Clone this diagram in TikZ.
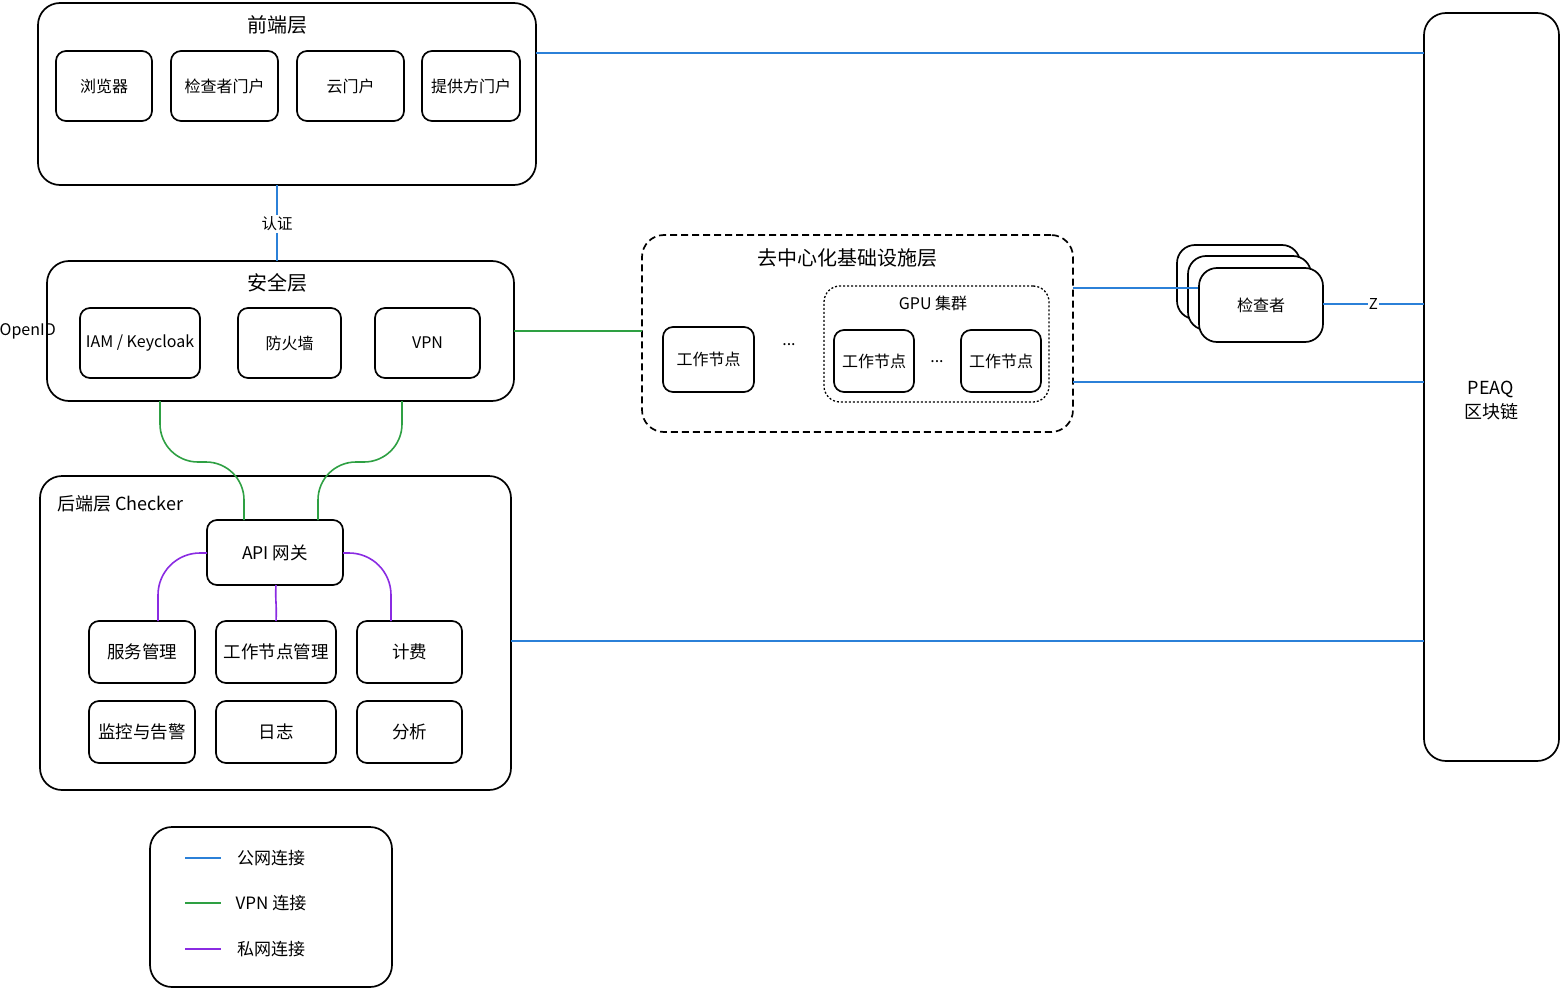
\documentclass[tikz,border=0pt]{standalone}
\usepackage{fontspec}
\setmainfont{Noto Sans CJK SC}
\usetikzlibrary{calc}
\definecolor{pubblue}{HTML}{2B80D8}
\definecolor{vpngreen}{HTML}{2EA043}
\definecolor{privpurple}{HTML}{8A2BE2}
\begin{document}
\begin{tikzpicture}[x=1pt,y=-1pt,
  box/.style={draw=black, line width=1.7pt, rounded corners=10, outer sep=0pt, inner sep=0pt, align=center, fill=white, font=\fontsize{16}{19}\selectfont},
  bbox/.style={box, font=\fontsize{17.5}{20}\selectfont},
  layer/.style={draw=black, line width=1.7pt, rounded corners=22, outer sep=0pt, inner sep=0pt},
  title/.style={font=\fontsize{20}{24}\selectfont, inner sep=0pt},
  label/.style={font=\fontsize{16}{19}\selectfont, inner sep=0pt},
  pub/.style={draw=pubblue, line width=1.6pt},
  vpn/.style={draw=vpngreen, line width=1.6pt},
  priv/.style={draw=privpurple, line width=1.6pt}
]
\useasboundingbox (0,0) rectangle (1563,1006);

% ---------- front layer ----------
\node[layer, minimum width=498, minimum height=182] (front) at (287,94) {};
\node[title] (fronttitle) at (277,25) {前端层};
\node[box, minimum width=96, minimum height=70] (browser) at (104,86) {浏览器};
\node[box, minimum width=107, minimum height=70] (chkportal) at (224.5,86) {检查者门户};
\node[box, minimum width=107, minimum height=70] (cloudportal) at (350.5,86) {云门户};
\node[box, minimum width=98, minimum height=70] (provportal) at (471,86) {提供方门户};

% ---------- security layer ----------
\node[layer, minimum width=467, minimum height=140] (sec) at (280.5,331) {};
\node[title] (sectitle) at (277,283) {安全层};
\node[box, minimum width=120, minimum height=70] (iam) at (140,343) {IAM / Keycloak};
\node[box, minimum width=103, minimum height=70] (fw) at (289.5,343) {防火墙};
\node[box, minimum width=105, minimum height=70] (vpnbox) at (427.5,343) {VPN};
\node[label, anchor=east] (openid) at (56,331) {OpenID};

% ---------- backend layer ----------
\node[layer, minimum width=471, minimum height=314] (back) at (275.5,633) {};
\node[font=\fontsize{18}{21}\selectfont, inner sep=0pt, anchor=west] (backtitle) at (57,504) {后端层 Checker};
\node[bbox, minimum width=136, minimum height=65] (api) at (275,552.5) {API 网关};
\node[bbox, minimum width=106, minimum height=62] (svc) at (142,652) {服务管理};
\node[bbox, minimum width=120, minimum height=62] (wnm) at (276,652) {工作节点管理};
\node[bbox, minimum width=105, minimum height=62] (bill) at (409.5,652) {计费};
\node[bbox, minimum width=106, minimum height=62] (mon) at (142,732) {监控与告警};
\node[bbox, minimum width=120, minimum height=62] (log) at (276,732) {日志};
\node[bbox, minimum width=105, minimum height=62] (ana) at (409.5,732) {分析};

% ---------- infrastructure layer ----------
\node[layer, dash pattern=on 7pt off 4pt, minimum width=431, minimum height=197] (infra) at (857.5,333.5) {};
\node[title] (infratitle) at (847,258) {去中心化基础设施层};
\node[box, minimum width=91, minimum height=65] (wn1) at (708.5,359.5) {工作节点};
\node[label] (dots1) at (789,345) {...};
\node[draw=black, line width=1.3pt, dash pattern=on 2pt off 2pt, rounded corners=16, outer sep=0pt, inner sep=0pt, minimum width=225, minimum height=116] (gpu) at (936.5,344) {};
\node[label] (gputitle) at (933,303) {GPU 集群};
\node[box, minimum width=80, minimum height=62] (wn2) at (874,361) {工作节点};
\node[label] (dots2) at (937,362) {...};
\node[box, minimum width=80, minimum height=62] (wn3) at (1001,361) {工作节点};

% ---------- checker stack ----------
\node[box, rounded corners=18, minimum width=123, minimum height=74] (chk3) at (1238.5,282) {};
\node[box, rounded corners=18, minimum width=123, minimum height=74] (chk2) at (1249.5,293) {};
\coordinate (chkleft) at (1199,288);
\draw[pub] (infra.east |- chkleft) -- (chkleft);
\node[box, rounded corners=18, minimum width=124, minimum height=74] (chk) at (1261,305) {检查者};

% ---------- blockchain ----------
\node[layer, minimum width=135, minimum height=748] (chain) at (1491.5,387) {};
\node[font=\fontsize{18}{24}\selectfont, align=center, inner sep=0pt] (chaintext) at (1491,401) {PEAQ\\区块链};

% ---------- legend ----------
\node[layer, minimum width=242, minimum height=160] (legend) at (271,907) {};
\coordinate (l1a) at (185,858); \coordinate (l1b) at (221,858);
\coordinate (l2a) at (185,903); \coordinate (l2b) at (221,903);
\coordinate (l3a) at (185,949); \coordinate (l3b) at (221,949);
\draw[pub] (l1a) -- (l1b);
\draw[vpn] (l2a) -- (l2b);
\draw[priv] (l3a) -- (l3b);
\node[label, font=\fontsize{17}{20}\selectfont] (lg1) at (271,858) {公网连接};
\node[label, font=\fontsize{17}{20}\selectfont] (lg2) at (271,903) {VPN 连接};
\node[label, font=\fontsize{17}{20}\selectfont] (lg3) at (271,949) {私网连接};

% ---------- connectors ----------
% auth
\draw[pub] (front.south -| fronttitle) -- (sec.north -| fronttitle)
  node[pos=0.51, fill=white, inner sep=2pt, font=\fontsize{15.5}{18}\selectfont] (auth) {认证};
% public lines to chain
\draw[pub] (front.east |- 0,53) -- (chain.west |- 0,53);
\draw[pub] (infra.east |- 0,382) -- (chain.west |- 0,382);
\draw[pub] (chk.east |- 0,304) -- (chain.west |- 0,304)
  node[pos=0.5, fill=white, inner sep=1pt, font=\fontsize{15}{18}\selectfont] (zlabel) {Z};
\draw[pub] (back.east |- 0,641) -- (chain.west |- 0,641);
% vpn lines
\draw[vpn] (sec.east |- 0,331) -- (infra.west |- 0,331);
\draw[vpn, rounded corners=38] (sec.south -| 160,0) -- (160,462) -- (244,462) -- (api.north -| 244,0);
\draw[vpn, rounded corners=38] (sec.south -| 402,0) -- (402,462) -- (318,462) -- (api.north -| 318,0);
% private lines
\draw[priv, rounded corners=42] (api.west |- 0,553) -- (158,553) -- (svc.north -| 158,0);
\draw[priv] (api.south -| 276,0) .. controls (275,600) and (277,605) .. (wnm.north -| 276,0);
\draw[priv, rounded corners=42] (api.east |- 0,553) -- (391,553) -- (bill.north -| 391,0);
\end{tikzpicture}
\end{document}
